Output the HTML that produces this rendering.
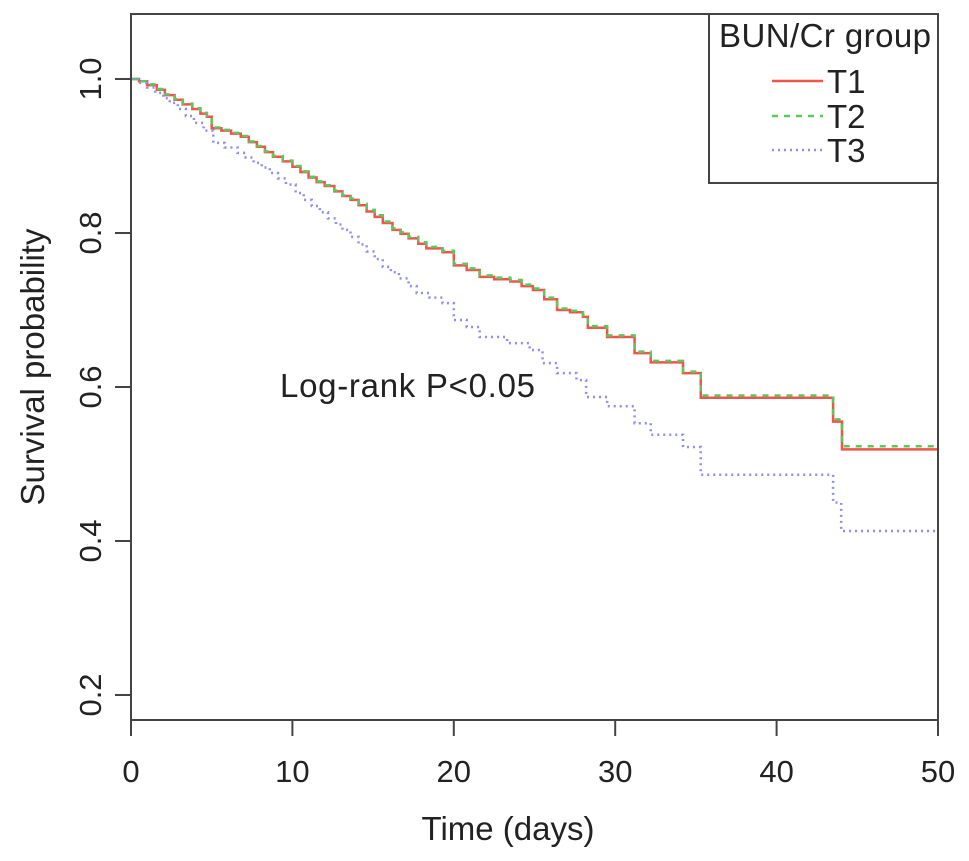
<!DOCTYPE html>
<html><head><meta charset="utf-8"><style>
html,body{margin:0;padding:0;background:#fff;}
svg{display:block;}
text{font-family:"Liberation Sans",Arial,sans-serif;fill:#222;}
</style></head><body>
<svg id="chart" width="969" height="861" viewBox="0 0 969 861" xmlns="http://www.w3.org/2000/svg">
<g id="series"></g>
<g id="axes"></g>
<rect x="131" y="14" width="807" height="706" fill="none" stroke="#444" stroke-width="2"/>
<text x="508" y="840" font-size="33" text-anchor="middle">Time (days)</text>
<text transform="translate(44,367) rotate(-90)" font-size="33" text-anchor="middle">Survival probability</text>
<text x="280" y="397" font-size="33" textLength="255">Log-rank P&lt;0.05</text>
<g>
<rect x="709" y="14" width="229" height="169" fill="#fff" stroke="#444" stroke-width="2"/>
<text x="719" y="47" font-size="33" textLength="212">BUN/Cr group</text>
<line x1="772" y1="81" x2="823" y2="81" stroke="#f0544a" stroke-width="2.5"/>
<text x="827" y="93" font-size="33">T1</text>
<line x1="772" y1="116" x2="823" y2="116" stroke="#5cc85c" stroke-width="2.5" stroke-dasharray="6,6"/>
<text x="827" y="128" font-size="33">T2</text>
<line x1="772" y1="150" x2="823" y2="150" stroke="#8c8ef0" stroke-width="2.5" stroke-dasharray="2,4"/>
<text x="827" y="162" font-size="33">T3</text>
</g>
</svg>
<script>
const xTicks = [0, 10, 20, 30, 40, 50];
const yTicks = [0.2, 0.4, 0.6, 0.8, 1.0];
const yTickLabels = ["0.2", "0.4", "0.6", "0.8", "1.0"];
const t1Times = [0, 0.5, 1.0, 1.6, 2.1, 2.7, 3.2, 3.8, 4.3, 4.7, 5.0, 5.6, 6.2, 6.8, 7.3, 7.8, 8.3, 8.8, 9.4, 10.0, 10.5, 11.0, 11.5, 12.0, 12.6, 13.1, 13.6, 14.1, 14.6, 15.1, 15.6, 16.2, 16.7, 17.2, 17.8, 18.3, 19.3, 20.0, 20.8, 21.6, 22.5, 23.5, 24.2, 24.9, 25.6, 26.4, 27.2, 28.0, 28.3, 29.5, 31.2, 32.2, 34.2, 35.3, 43.5, 44.05];
const t1Surv  = [1.0, 0.997, 0.992, 0.986, 0.979, 0.973, 0.967, 0.961, 0.955, 0.951, 0.936, 0.933, 0.929, 0.925, 0.918, 0.912, 0.905, 0.899, 0.893, 0.886, 0.879, 0.872, 0.866, 0.861, 0.854, 0.848, 0.843, 0.836, 0.828, 0.821, 0.813, 0.804, 0.799, 0.793, 0.786, 0.78, 0.775, 0.758, 0.752, 0.743, 0.740, 0.737, 0.731, 0.726, 0.714, 0.70, 0.697, 0.691, 0.677, 0.665, 0.644, 0.632, 0.618, 0.586, 0.555, 0.519];
const t2Times = [0, 0.5, 1.0, 1.6, 2.1, 2.7, 3.2, 3.8, 4.3, 4.7, 5.0, 5.6, 6.2, 6.8, 7.3, 7.8, 8.3, 8.8, 9.4, 10.0, 10.5, 11.0, 11.5, 12.0, 12.6, 13.1, 13.6, 14.1, 14.6, 15.1, 15.6, 16.2, 16.7, 17.2, 17.8, 18.3, 19.3, 20.0, 20.8, 21.6, 22.5, 23.5, 24.2, 24.9, 25.6, 26.4, 27.2, 28.0, 28.3, 29.5, 31.2, 32.2, 34.2, 35.3, 43.5, 44.05];
const t2Surv  = [1.0, 0.997, 0.993, 0.987, 0.980, 0.974, 0.968, 0.962, 0.956, 0.952, 0.937, 0.934, 0.930, 0.926, 0.919, 0.913, 0.906, 0.900, 0.894, 0.887, 0.880, 0.873, 0.867, 0.862, 0.855, 0.849, 0.845, 0.838, 0.830, 0.823, 0.815, 0.806, 0.801, 0.795, 0.788, 0.782, 0.777, 0.760, 0.754, 0.745, 0.742, 0.739, 0.733, 0.728, 0.716, 0.702, 0.699, 0.693, 0.679, 0.667, 0.646, 0.634, 0.620, 0.589, 0.558, 0.523];
const t3Times = [0, 0.5, 1.0, 1.5, 2.0, 2.4, 2.9, 3.4, 3.9, 4.5, 5.1, 5.8, 6.6, 7.1, 7.6, 8.1, 8.6, 9.1, 9.6, 10.2, 10.7, 11.2, 11.7, 12.2, 12.7, 13.1, 13.6, 14.1, 14.6, 15.1, 15.6, 16.1, 16.6, 17.2, 17.7, 18.5, 19.3, 20.0, 20.8, 21.6, 23.3, 24.7, 25.5, 26.4, 27.6, 28.2, 29.5, 31.2, 32.2, 34.2, 35.3, 43.5, 44.0];
const t3Surv  = [1.0, 0.995, 0.989, 0.982, 0.975, 0.969, 0.961, 0.952, 0.943, 0.933, 0.917, 0.911, 0.904, 0.898, 0.891, 0.885, 0.878, 0.871, 0.863, 0.852, 0.843, 0.835, 0.827, 0.819, 0.811, 0.804, 0.795, 0.785, 0.776, 0.766, 0.756, 0.749, 0.741, 0.731, 0.722, 0.716, 0.709, 0.687, 0.678, 0.665, 0.657, 0.648, 0.631, 0.618, 0.609, 0.587, 0.575, 0.553, 0.538, 0.522, 0.486, 0.45, 0.413];
const tMax = 50;

const NS = "http://www.w3.org/2000/svg";
function xS(t){ return 131 + t * (807 / 50); }
function yS(v){ return 79 + (1 - v) * 770; }

const axes = document.getElementById('axes');
xTicks.forEach(function(t){
  const l = document.createElementNS(NS,'line');
  
  
  l.setAttribute('x1', xS(t)); l.setAttribute('x2', xS(t));
  l.setAttribute('y1', 720); l.setAttribute('y2', 736);
  l.setAttribute('stroke', '#444'); l.setAttribute('stroke-width', '2');
  axes.appendChild(l);
  const tx = document.createElementNS(NS,'text');
  
  
  tx.setAttribute('x', xS(t)); tx.setAttribute('y', 782);
  tx.setAttribute('font-size', '31'); tx.setAttribute('text-anchor', 'middle');
  tx.textContent = String(t);
  axes.appendChild(tx);
});
yTicks.forEach(function(v, i){
  const l = document.createElementNS(NS,'line');
  
  
  l.setAttribute('x1', 115); l.setAttribute('x2', 131);
  l.setAttribute('y1', yS(v)); l.setAttribute('y2', yS(v));
  l.setAttribute('stroke', '#444'); l.setAttribute('stroke-width', '2');
  axes.appendChild(l);
  const tx = document.createElementNS(NS,'text');
  
  
  tx.setAttribute('transform', 'translate(101,' + yS(v) + ') rotate(-90)');
  tx.setAttribute('font-size', '31'); tx.setAttribute('text-anchor', 'middle');
  tx.textContent = yTickLabels[i];
  axes.appendChild(tx);
});

function stepPath(times, surv){
  let d = 'M' + xS(times[0]) + ',' + yS(surv[0]);
  for (let i = 1; i < times.length; i++){
    d += ' H' + xS(times[i]) + ' V' + yS(surv[i]);
  }
  d += ' H' + xS(tMax);
  return d;
}
const series = document.getElementById('series');
function addCurve(name, times, surv, color, dash){
  const p = document.createElementNS(NS,'path');
  
  
  p.setAttribute('d', stepPath(times, surv));
  p.setAttribute('fill', 'none');
  p.setAttribute('stroke', color);
  p.setAttribute('stroke-width', '2.5');
  if (dash) p.setAttribute('stroke-dasharray', dash);
  series.appendChild(p);
}
addCurve('curve-t1', t1Times, t1Surv, '#f0544a', null);
addCurve('curve-t2', t2Times, t2Surv, '#5cc85c', '6,6');
addCurve('curve-t3', t3Times, t3Surv, '#8c8ef0', '2,4');
</script>
</body></html>
